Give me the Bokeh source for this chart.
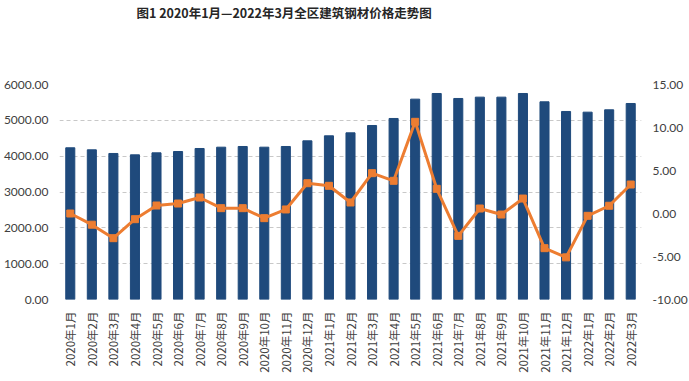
import math
from bokeh.plotting import figure
from bokeh.models import Range1d, LinearAxis, FixedTicker, NumeralTickFormatter, Title
from bokeh.embed import file_html
from bokeh.resources import INLINE

months = ["2020年1月", "2020年2月", "2020年3月", "2020年4月", "2020年5月", "2020年6月",
          "2020年7月", "2020年8月", "2020年9月", "2020年10月", "2020年11月", "2020年12月",
          "2021年1月", "2021年2月", "2021年3月", "2021年4月", "2021年5月", "2021年6月",
          "2021年7月", "2021年8月", "2021年9月", "2021年10月", "2021年11月", "2021年12月",
          "2022年1月", "2022年2月", "2022年3月"]
price = [4234, 4177, 4075, 4037, 4093, 4130, 4214, 4251, 4270, 4251, 4270, 4428,
         4568, 4651, 4856, 5052, 5591, 5749, 5610, 5647, 5647, 5749, 5517, 5247,
         5228, 5294, 5470]
change = [0.0, -1.3, -2.87, -0.66, 0.93, 1.16, 1.86, 0.62, 0.62, -0.54, 0.47, 3.52,
          3.22, 1.28, 4.69, 3.8, 10.66, 2.87, -2.6, 0.58, -0.12, 1.74, -4.03, -5.1,
          -0.27, 0.9, 3.37]
left_ticks = [0, 1000, 2000, 3000, 4000, 5000, 6000]
right_ticks = [-10, -5, 0, 5, 10, 15]
title_text = "图1 2020年1月—2022年3月全区建筑钢材价格走势图"

num_font = "Lato"
cjk_font = "Noto Sans CJK SC"
label_color = "#404040"

p = figure(x_range=months, y_range=Range1d(0, 6000), frame_width=582, frame_height=215,
           output_backend="svg", toolbar_location=None, min_border_top=0,
           min_border_left=10, min_border_right=10, min_border_bottom=5)
# real title at the top of the figure; a blank spacer title between it and the frame
p.title.text = title_text
p.title.text_font = cjk_font
p.title.text_font_size = "12.5px"
p.title.text_font_style = "bold"
p.title.text_color = "#262626"
p.title.align = "left"
p.title.offset = 77
p.title.standoff = 0
p.add_layout(Title(text=" ", text_font_size="10px", standoff=50), "above")
p.extra_y_ranges = {"pct": Range1d(-10, 15)}
p.outline_line_color = None

p.vbar(x=months, top=price, width=0.42, color="#1f4a7c", line_color="#1f4a7c")
p.line(x=months, y=change, y_range_name="pct", line_color="#ed7d31", line_width=3)
p.scatter(x=months, y=change, y_range_name="pct", marker="square", size=7,
          color="#ed7d31")

right = LinearAxis(y_range_name="pct")
p.add_layout(right, "right")

for ax in [p.yaxis[0], right]:
    ax.axis_line_color = None
    ax.major_tick_line_color = None
    ax.minor_tick_line_color = None
    ax.major_label_text_font = num_font
    ax.major_label_text_font_size = "12px"
    ax.major_label_text_color = label_color
    ax.formatter = NumeralTickFormatter(format="0.00")
p.yaxis[0].ticker = FixedTicker(ticks=left_ticks)
right.ticker = FixedTicker(ticks=right_ticks)

xa = p.xaxis[0]
xa.axis_line_color = None
xa.major_tick_line_color = None
xa.major_label_orientation = math.pi / 2
xa.major_label_text_font = cjk_font
xa.major_label_text_font_size = "11.5px"
xa.major_label_text_color = label_color
xa.major_label_standoff = 6

p.xgrid.grid_line_color = None
p.ygrid.grid_line_color = "#c8c8c8"
p.ygrid.grid_line_dash = "4 3"
p.ygrid.grid_line_width = 1

open("out.html", "w").write(file_html(p, INLINE))
